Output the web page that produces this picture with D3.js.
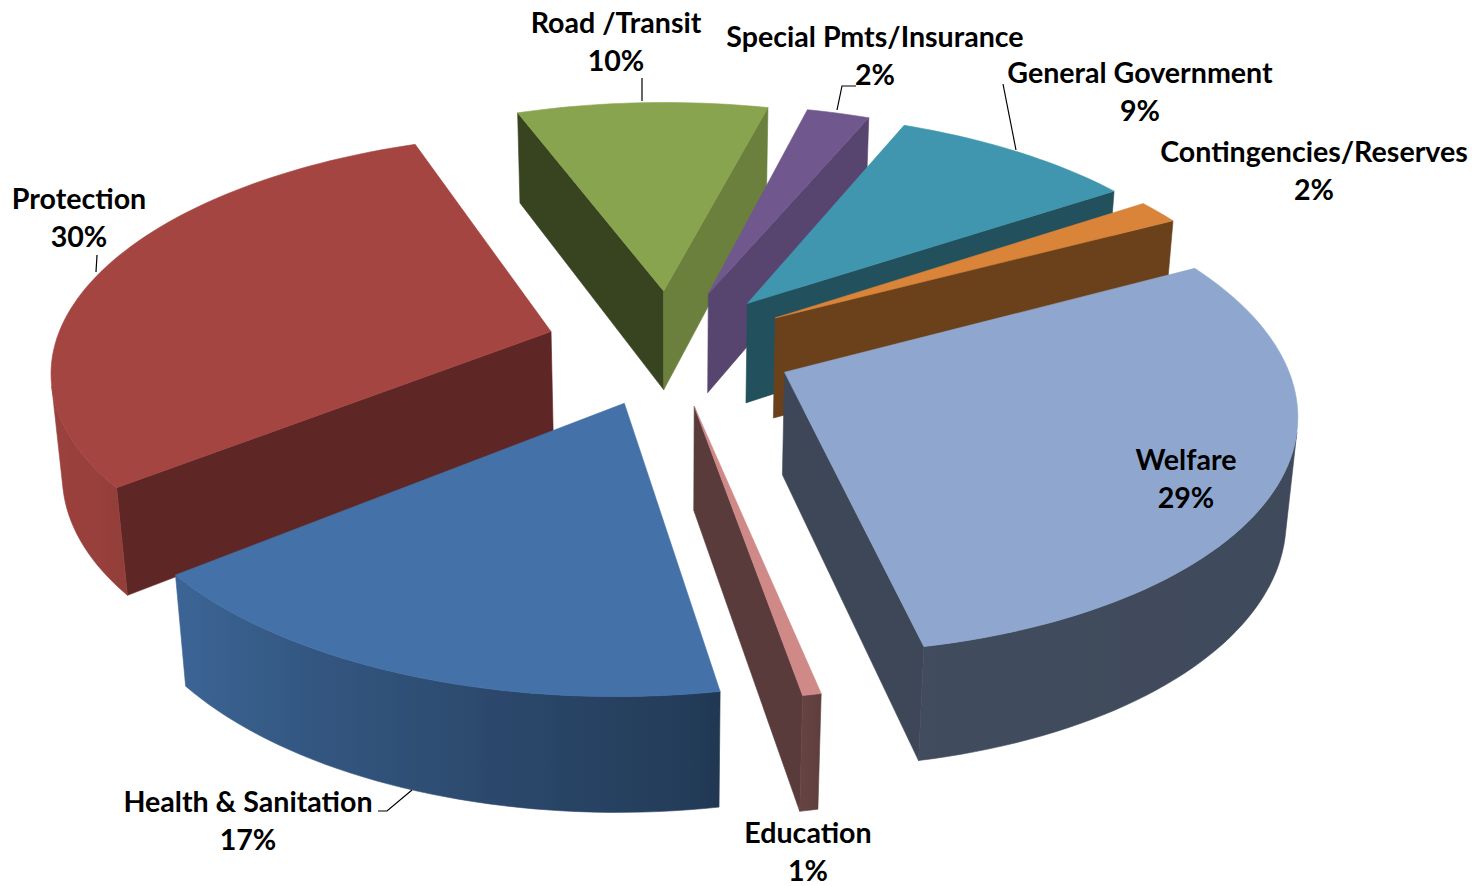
<!DOCTYPE html>
<html>
<head>
<meta charset="utf-8">
<script src="https://cdn.jsdelivr.net/npm/d3@7"></script>
<style>
  html, body { margin: 0; padding: 0; background: #fff; }
  svg { display: block; }
  text { font-family: Lato, "Open Sans", sans-serif; font-weight: 700; fill: #000; }
</style>
</head>
<body>
<svg id="chart" width="1479" height="886"></svg>
<script>
const categories = ["Welfare", "Education", "Health & Sanitation", "Protection", "Road /Transit", "Special Pmts/Insurance", "General Government", "Contingencies/Reserves"];
const values = [29.45, 0.5, 17, 30.1, 9.6, 2.4, 9.3, 1.65];
const topColors = ["#8fa7cf", "#cf8a88", "#4371a8", "#a54541", "#89a44e", "#70588f", "#4096ae", "#da843a"];

// label centre x and first baseline, one per category
const labelX = [1186, 808, 248, 79, 616, 875, 1140, 1314];
const labelY = [470, 843, 812, 209, 33, 47, 83, 162];
const leaders = [
  [[642, 78], [642, 101]],
  [[856, 86], [842, 86], [837, 110]],
  [[1003, 84], [1016, 150]],
  [[97, 255], [96, 272]],
  [[378, 811], [387, 811], [412, 790]]
];

// camera for the tilted pie
const cx = 670, cy = 347, focal = 2980, dist = 6, tilt = 0.485;
const explode = 0.251, thick = 0.235;
const startAngle = 62.3 * Math.PI / 180;

// how much of the top colour survives on a face, by the way it faces (degrees)
const cutShade = d3.scaleLinear().domain([100, 115, 141, 152, 250, 260]).range([0.78, 0.78, 0.57, 0.49, 0.41, 0.43]);
const wallShade = d3.scaleLinear().domain([60, 168, 172, 235, 280]).range([0.43, 0.45, 0.52, 0.92, 0.97]).clamp(true);

const line = d3.line();
const closed = pts => line(pts) + "Z";
const toDeg = a => ((a * 180 / Math.PI) % 360 + 360) % 360;

function project(x, y, z) {
  const s = focal / (dist - y * Math.cos(tilt) - z * Math.sin(tilt));
  return [cx + x * s, cy + (y * Math.sin(tilt) - z * Math.cos(tilt)) * s];
}

function shade(color, k) {
  const c = d3.rgb(color);
  return d3.rgb(c.r * k, c.g * k, c.b * k).formatHex();
}

// true when the points wind so that the face looks at the viewer
function facing(p) {
  const ax = p[1][0] - p[0][0], ay = p[1][1] - p[0][1];
  const bx = p[2][0] - p[0][0], by = p[2][1] - p[0][1];
  return ax * by - ay * bx < 0;
}

function draw() {
  const svg = d3.select("#chart");
  const defs = svg.append("defs");
  const arcs = d3.pie().sort(null).startAngle(startAngle).endAngle(startAngle + 2 * Math.PI)(values);
  arcs.forEach((d, i) => {
    d.index = i;
    d.color = topColors[i];
    d.mid = (d.startAngle + d.endAngle) / 2;
    d.ox = explode * Math.sin(d.mid);
    d.oy = -explode * Math.cos(d.mid);
  });

  const order = arcs.slice().sort((a, b) => a.oy - b.oy);
  const groups = svg.selectAll("g.slice").data(order).join("g").attr("class", "slice");
  groups.each(function (d) { drawSlice(d3.select(this), defs, d); });

  drawLeaders(svg);
  drawLabels(svg);
}

function drawSlice(g, defs, d) {
  const rim = (a, z) => project(d.ox + Math.sin(a), d.oy - Math.cos(a), z);
  const apex = z => project(d.ox, d.oy, z);
  const steps = Math.max(2, Math.ceil((d.endAngle - d.startAngle) / (1.5 * Math.PI / 180)));
  const angles = d3.range(steps + 1).map(i => d.startAngle + (d.endAngle - d.startAngle) * i / steps);

  // the two cut faces
  const faces = [
    { pts: [apex(0), rim(d.startAngle, 0), rim(d.startAngle, -thick), apex(-thick)], normal: d.startAngle - Math.PI / 2 },
    { pts: [rim(d.endAngle, 0), apex(0), apex(-thick), rim(d.endAngle, -thick)], normal: d.endAngle + Math.PI / 2 }
  ];
  faces.filter(f => facing(f.pts)).forEach(f => {
    const col = shade(d.color, cutShade(toDeg(f.normal)));
    g.append("path").attr("d", closed(f.pts)).attr("fill", col).attr("stroke", col).attr("stroke-width", 0.6);
  });

  drawWall(g, defs, d, angles, rim);

  // top
  const top = [apex(0)].concat(angles.map(a => rim(a, 0)));
  g.append("path").attr("d", closed(top)).attr("fill", d.color).attr("stroke", d.color).attr("stroke-width", 0.6);
}

// outer wall as one polygon with a sideways gradient
function drawWall(g, defs, d, angles, rim) {
  const seen = angles.filter((a, i) => {
    const b = angles[Math.min(i + 1, angles.length - 1)], c = angles[Math.max(i - 1, 0)];
    return facing([rim(c, 0), rim(b, 0), rim(b, -thick)]);
  });
  if (seen.length < 2) return;

  const xs = seen.map(a => rim(a, 0)[0]);
  const offset = d3.scaleLinear().domain(d3.extent(xs)).range([0, 1]);
  const id = "wall-" + d.index;
  const grad = defs.append("linearGradient")
    .attr("id", id)
    .attr("gradientUnits", "userSpaceOnUse")
    .attr("x1", d3.min(xs))
    .attr("x2", d3.max(xs))
    .attr("y1", 0)
    .attr("y2", 0);
  seen.slice().sort((a, b) => rim(a, 0)[0] - rim(b, 0)[0]).forEach(a => {
    grad.append("stop")
      .attr("offset", offset(rim(a, 0)[0]))
      .attr("stop-color", shade(d.color, wallShade(toDeg(a))));
  });

  const pts = seen.map(a => rim(a, 0)).concat(seen.slice().reverse().map(a => rim(a, -thick)));
  g.append("path").attr("d", closed(pts)).attr("fill", `url(#${id})`).attr("stroke", `url(#${id})`).attr("stroke-width", 0.6);
}

function drawLeaders(svg) {
  svg.selectAll("path.leader").data(leaders).join("path")
    .attr("class", "leader")
    .attr("d", d => line(d))
    .attr("fill", "none")
    .attr("stroke", "#000")
    .attr("stroke-width", 1.2);
}

function drawLabels(svg) {
  const labels = svg.selectAll("g.label").data(categories).join("g").attr("class", "label");
  labels.append("text")
    .attr("x", (d, i) => labelX[i])
    .attr("y", (d, i) => labelY[i])
    .attr("text-anchor", "middle")
    .style("font-size", "28.6px")
    .text(d => d);
  labels.append("text")
    .attr("x", (d, i) => labelX[i])
    .attr("y", (d, i) => labelY[i] + 38)
    .attr("text-anchor", "middle")
    .style("font-size", "28.6px")
    .text((d, i) => Math.round(values[i]) + "%");
}

draw();
</script>
</body>
</html>
